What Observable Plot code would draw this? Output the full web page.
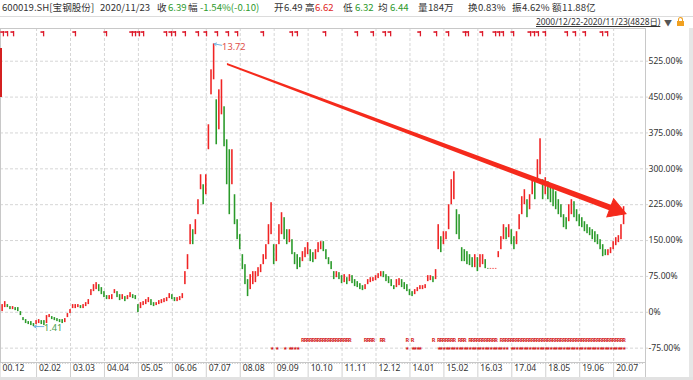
<!DOCTYPE html>
<html><head><meta charset="utf-8">
<script src="https://cdn.jsdelivr.net/npm/d3@7"></script>
<script src="https://cdn.jsdelivr.net/npm/@observablehq/plot@0.6"></script>
<style>
body{margin:0;background:#fff;width:693px;height:380px;overflow:hidden;position:relative;font-family:"Noto Sans CJK SC","Noto Sans",sans-serif;}
#hdr{position:absolute;left:0;top:0;width:693px;height:16px;border-bottom:1px solid #dcdcdc;}
.h{position:absolute;top:1px;font-size:9.6px;line-height:13px;color:#333;white-space:nowrap;}
#range{position:absolute;left:536px;top:16px;font-size:8.4px;line-height:12px;color:#333;text-decoration:underline;white-space:nowrap;font-family:"Noto Sans","Noto Sans CJK SC",sans-serif;}
#tri{position:absolute;left:664px;top:17px;font-size:8px;color:#555;}
#lock{position:absolute;left:677px;top:21px;width:7px;height:5px;background:#f0a020;}
#lock2{position:absolute;left:678px;top:17px;width:5px;height:4px;border:1px solid #f0a020;border-bottom:none;border-radius:3px 3px 0 0;box-sizing:border-box;}
#chart{position:absolute;left:0;top:28px;}
#lbar{position:absolute;left:0;top:48px;width:2px;height:49px;background:#d42020;}
#rstrip{position:absolute;left:689px;top:28px;width:4px;height:350px;background:#e6e6e6;}
#bstrip{position:absolute;left:0;top:377px;width:693px;height:3px;background:#e2e2e2;}
</style></head><body>
<div id="hdr"></div>
<div id="range">2000/12/22-2020/11/23(4828日)</div>
<div id="tri">▼</div><div id="lock2"></div><div id="lock"></div>
<div id="chart"></div>
<div id="lbar"></div><div id="rstrip"></div><div id="bstrip"></div>
<script>
// ---------- header quote ----------
const GREEN = "#2e9a2e", RED = "#e02828";
const headerText  = ["600019.SH[宝钢股份]","2020/11/23","收","6.39","幅","-1.54%(-0.10)","开","6.49","高","6.62","低","6.32","均","6.44","量","184万","换","0.83%","振","4.62%","额","11.88亿"];
const headerLeft  = [2,100,157,168,188,200,274,284,305,315,343,355,378,390,418,428,468,478,512,522,552,562];
const headerColor = ["#333","#333","#333",GREEN,"#333",GREEN,"#333","#333","#333",RED,"#333",GREEN,"#333",GREEN,"#333","#333","#333","#333","#333","#333","#333","#333"];

// ---------- axes ----------
const tickMonths = [0,14,27,40,53,66,79,92,105,118,131,144,157,170,183,196,209,222,235];
const tickLabels = ["00.12","02.02","03.03","04.04","05.05","06.06","07.07","08.08","09.09","10.10","11.11","12.12","14.01","15.02","16.03","17.04","18.05","19.06","20.07"];
const yTicks = [-75,0,75,150,225,300,375,450,525];

// ---------- price range per month (% change vs 2000/12/22), months 1..239 ----------
const barHigh = [
 16.1,22.3,16.1,11.9,11.9,9.8,9.8,1.4,-11.1,-15.3,
 -19.5,-19.5,-23.6,-17.4,-15.3,-17.4,-17.4,-6.9,-4.8,-9.0,
 -11.1,-13.2,-15.3,-15.3,-13.2,-2.7,5.6,16.1,16.1,16.1,
 14.0,16.1,20.2,26.5,47.4,57.8,62.0,57.8,51.6,43.2,
 34.9,34.9,36.9,47.4,43.2,36.9,36.9,32.8,34.9,41.1,
 36.9,34.9,16.1,20.2,22.3,26.5,30.7,26.5,20.2,20.2,
 24.4,26.5,28.6,30.7,39.0,36.9,30.7,30.7,32.8,39.0,
 85.0,120.5,183.2,172.7,193.6,235.4,287.6,266.7,287.6,392.1,
 507.0,561.3,444.3,465.2,486.1,429.7,360.7,339.9,339.9,245.8,
 193.6,162.3,120.5,99.6,68.3,78.7,85.0,85.0,93.3,99.6,
 120.5,141.4,183.2,229.1,141.4,141.4,183.2,208.2,197.8,172.7,
 172.7,151.8,124.7,120.5,114.2,126.8,135.1,145.6,130.9,124.7,
 130.9,145.6,147.7,147.7,130.9,114.2,105.9,85.0,85.0,82.9,
 76.6,78.7,72.4,78.7,76.6,68.3,64.1,59.9,55.7,57.8,
 68.3,72.4,72.4,76.6,80.8,85.0,85.0,78.7,74.5,68.3,
 55.7,68.3,70.4,68.3,62.0,57.8,47.4,43.2,47.4,51.6,
 55.7,55.7,57.8,76.6,76.6,74.5,89.2,183.2,158.1,168.5,
 168.5,224.9,277.2,293.9,214.5,204.1,135.1,130.9,126.8,120.5,
 114.2,120.5,114.2,120.5,120.5,110.1,91.7,91.7,91.7,91.7,
 126.8,158.1,183.2,176.9,183.2,172.7,158.1,168.5,204.1,241.7,
 256.3,235.4,245.8,281.4,277.2,319.0,362.8,277.2,281.4,273.0,
 266.7,260.5,252.1,235.4,224.9,204.1,197.8,224.9,235.4,231.2,
 214.5,204.1,197.8,189.4,183.2,176.9,172.7,168.5,162.3,151.8,
 141.4,130.9,130.9,135.1,147.7,156.0,160.2,183.2,220.8];
const barLow = [
 1.4,9.8,9.8,5.6,5.6,3.5,1.4,-6.9,-17.4,-23.6,
 -25.7,-27.8,-29.9,-25.7,-23.6,-25.7,-27.8,-23.6,-11.1,-15.3,
 -17.4,-19.5,-21.6,-23.6,-21.6,-11.1,-2.7,7.7,7.7,9.8,
 7.7,7.7,11.9,16.1,34.9,43.2,47.4,43.2,36.9,30.7,
 26.5,26.5,26.5,39.0,30.7,24.4,26.5,22.3,26.5,30.7,
 28.6,26.5,-0.7,7.7,14.0,16.1,20.2,14.0,11.9,14.0,
 16.1,18.1,20.2,22.3,28.6,26.5,22.3,22.3,24.4,28.6,
 57.8,89.2,141.4,141.4,162.3,204.1,256.3,224.9,245.8,339.9,
 454.7,486.1,350.3,381.6,412.9,346.1,266.7,204.1,266.7,183.2,
 151.8,130.9,89.2,57.8,32.8,47.4,57.8,62.0,74.5,82.9,
 99.6,110.1,141.4,162.3,99.6,105.9,141.4,162.3,151.8,141.4,
 145.6,120.5,99.6,89.2,93.3,105.9,114.2,120.5,105.9,103.8,
 110.1,124.7,130.9,126.8,110.1,99.6,89.2,68.3,72.4,68.3,
 59.9,62.0,57.8,64.1,59.9,53.7,51.6,47.4,45.3,47.4,
 57.8,62.0,64.1,66.2,70.4,74.5,72.4,64.1,59.9,53.7,
 47.4,51.6,55.7,51.6,47.4,43.2,34.9,32.8,36.9,43.2,
 47.4,47.4,49.5,64.1,66.2,62.0,68.3,130.9,124.7,141.4,
 151.8,172.7,224.9,235.4,162.3,151.8,105.9,105.9,99.6,97.5,
 93.3,93.3,85.0,93.3,99.6,91.2,90.2,90.2,90.2,90.2,
 114.2,130.9,151.8,151.8,156.0,141.4,130.9,141.4,172.7,204.1,
 224.9,197.8,214.5,245.8,235.4,277.2,287.6,235.4,245.8,235.4,
 229.1,220.8,214.5,204.1,197.8,176.9,172.7,189.4,204.1,197.8,
 189.4,179.0,176.9,168.5,164.3,160.2,151.8,145.6,141.4,130.9,
 116.3,118.4,118.4,122.6,130.9,139.3,145.6,151.8,183.2];
const highPrice = "13.72", lowPrice = "1.41";

// ---------- event markers (months) ----------
const signalMonths = [1.3,2.9,5.2,16.7,28.9,40.8,50.7,51.9,53.4,55.0,63.8,65.7,67.2,71.0,76.0,79.1,83.3,87.5,91.0,100.9,112.0,113.9,124.7,136.9,143.0,147.6,149.6,161.0,167.2,171.8,178.3,179.4,184.8,189.8,191.3,192.8,196.7,203.2,204.7,206.2,208.9,217.3,220.4,224.2,230.8,232.7];
const rMarkerRanges = [[116,134],[140,143],[146,147],[156,156],[158,158],[166,166],[168,174],[176,178],[180,190],[192,239]];
const starMarkerRanges = [[104,104],[106,106],[109,109],[111,114],[156,156],[158,161],[168,194],[196,239]];

// ---------- trend arrow (month, %) ----------
const arrowStart = {m: 87.1, pct: 518.1, half: 2.2};
const arrowEnd   = {m: 235.7, pct: 214.2, half: 6.7};
const arrowHead  = {m: 235.7, pct: 214.2};

// ---------- build ----------
const hdr = document.getElementById("hdr");
headerText.forEach((t, i) => {
  const s = document.createElement("span");
  s.className = "h"; s.textContent = t;
  s.style.left = headerLeft[i] + "px"; s.style.color = headerColor[i];
  hdr.appendChild(s);
});

const X_DOMAIN = [0.19, 247.2];
const Y_DOMAIN = [-105.0, 593.4];
const CRED = "#f02424", CGREEN = "#2a9a2a";

const bars = barHigh.map((h, i) => {
  const mid = (h + barLow[i]) / 2;
  const prev = i ? (barHigh[i-1] + barLow[i-1]) / 2 : mid - 1;
  return {m: i + 1, hi: h, lo: barLow[i], up: mid >= prev};
});
let iMax = 0, iMin = 0;
bars.forEach((b, i) => { if (b.hi > bars[iMax].hi) iMax = i; if (b.lo < bars[iMin].lo) iMin = i; });
const peak = bars[iMax], trough = bars[iMin];

const expand = rs => rs.flatMap(([a, b]) => d3.range(a, b + 1));
const rMonths = expand(rMarkerRanges), starMonths = expand(starMarkerRanges);
const allMonths = d3.range(1, 247);

const fmtPct = d => d === 0 ? "0%" : d.toFixed(2) + "%";

const chart = Plot.plot({
  width: 693, height: 352,
  marginLeft: 0, marginRight: 48, marginTop: 0, marginBottom: 18,
  x: {domain: X_DOMAIN, axis: null},
  y: {domain: Y_DOMAIN, axis: null},
  style: {fontFamily: "'Noto Sans', sans-serif", fontSize: "8.6px", background: "transparent", overflow: "visible", color: "#333"},
  marks: [
    Plot.ruleY(yTicks, {y: d => d, stroke: "#d6d6d6", strokeDasharray: "3,2", insetRight: -3}),
    Plot.ruleX(tickMonths, {x: d => d, stroke: "#d6d6d6", strokeDasharray: "3,2"}),
    Plot.ruleX(tickMonths, {x: d => d, stroke: "#d0d0d0", insetTop: 334, insetBottom: -16}),
    Plot.ruleX(allMonths, {x: d => d, stroke: "#c8c8c8", insetTop: 334, insetBottom: -2}),
    Plot.ruleX([X_DOMAIN[1]], {x: d => d, stroke: "#c8c8c8", insetBottom: -16}),
    Plot.frame({stroke: "#c8c8c8"}),
    // candles
    Plot.rect(bars, {x1: d => d.m - 0.3, x2: d => d.m + 0.3, y1: "lo", y2: "hi", fill: d => d.up ? CRED : CGREEN}),
    // high / low annotations
    Plot.arrow([peak], {x1: d => d.m + 2.9, y1: d => d.hi - 3, x2: d => d.m, y2: d => d.hi, stroke: "#74b4e0", strokeWidth: 1, headLength: 4}),
    Plot.text([peak], {x: "m", y: "hi", text: () => highPrice, dx: 8, dy: 3, textAnchor: "start", fill: "#e0504a", fontSize: 9.2}),
    Plot.arrow([trough], {x1: d => d.m + 3.8, y1: "lo", x2: "m", y2: "lo", stroke: "#74b4e0", strokeWidth: 1, headLength: 4}),
    Plot.text([trough], {x: "m", y: "lo", text: () => lowPrice, dx: 10, dy: 1, textAnchor: "start", fill: "#4a9e4a", fontSize: 9.2}),
    // trend arrow
    Plot.areaY([arrowStart, arrowEnd], {x: "m", y1: d => d.pct - d.half, y2: d => d.pct + d.half, fill: "#f52a1c"}),
    Plot.dot([arrowHead], {x: "m", y: "pct", symbol: "triangle", r: 7.2, rotate: 110.5, fill: "#f52a1c", stroke: "#f52a1c", strokeWidth: 1}),
    // signal markers on top
    Plot.ruleX(signalMonths, {x: d => d, y1: 587.1, y2: 576, stroke: "#dd1c2c", strokeWidth: 1.3}),
    Plot.link(signalMonths, {x1: d => d - 1.2, x2: d => d, y1: 586, y2: 586, stroke: "#dd1c2c", strokeWidth: 1.6}),
    // bottom markers (one glyph per month, squeezed to the month width)
    Plot.text(rMonths, {x: d => d, y: -59.0, text: () => "R", fill: "#d41c1c", fontSize: 5.5, fontWeight: "bold", ariaLabel: "rmarks"}),
    Plot.text(starMonths, {x: d => d, y: -74.6, text: () => "★", fill: "#d41c1c", fontSize: 5, ariaLabel: "starmarks"}),
    // axis labels
    Plot.text(yTicks, {x: X_DOMAIN[1], y: d => d, text: fmtPct, textAnchor: "start", dx: 3, fill: "#333", fontSize: 8.6}),
    Plot.text(tickMonths, {x: d => d, frameAnchor: "bottom", dy: 8, text: (d, i) => tickLabels[i], textAnchor: "start", dx: 2.5, fill: "#333", fontSize: 8.6})
  ]
});
["rmarks", "starmarks"].forEach(lab => {
  chart.querySelectorAll(`g[aria-label="${lab}"] text`).forEach(t => {
    t.setAttribute("textLength", "2.5");
    t.setAttribute("lengthAdjust", "spacingAndGlyphs");
  });
});
document.getElementById("chart").appendChild(chart);
</script>
</body></html>
